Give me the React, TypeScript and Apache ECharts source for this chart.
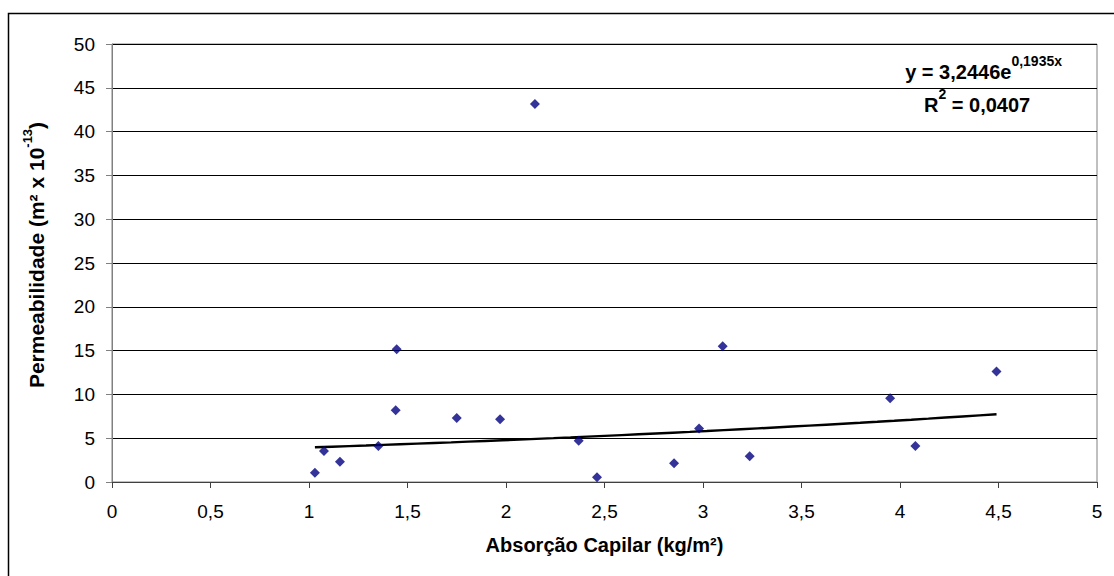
import React, { useEffect, useRef } from "react";
import * as echarts from "echarts";

const absorcao = [1.03, 1.076, 1.157, 1.352, 1.44, 1.445, 1.75, 1.97, 2.147, 2.369, 2.462, 2.853, 2.98, 3.1, 3.237, 3.95, 4.078, 4.49];
const permeabilidade = [1.07, 3.54, 2.32, 4.1, 8.2, 15.15, 7.3, 7.15, 43.15, 4.72, 0.53, 2.13, 6.12, 15.5, 2.93, 9.55, 4.1, 12.6];
const xTicks = { min: 0, max: 5, interval: 0.5 };
const yTicks = { min: 0, max: 50, interval: 5 };
// Trendline as displayed: y = 3,2446 e^(0,1935 x)
const TREND_A = 3.2446;
const TREND_B = 0.1935;
const TREND_STEPS = 40;

const FONT = "'Liberation Sans', Arial, sans-serif";

export default function App() {
  const ref = useRef<HTMLDivElement>(null);
  useEffect(() => {
    if (!ref.current) return;
    const chart = echarts.init(ref.current, null, { renderer: "svg" });
    const points = absorcao.map((x, i) => [x, permeabilidade[i]]);
    const xmin = Math.min(...absorcao);
    const xmax = Math.max(...absorcao);
    const trend: number[][] = [];
    for (let i = 0; i <= TREND_STEPS; i++) {
      const x = xmin + ((xmax - xmin) * i) / TREND_STEPS;
      trend.push([x, TREND_A * Math.exp(TREND_B * x)]);
    }
    const fmt = (v: number) => String(v).replace(".", ",");
    const eqRich = {
      m: { fontSize: 20, fontWeight: "bold", fontFamily: FONT, fill: "#000", lineHeight: 28, verticalAlign: "bottom" },
      s: { fontSize: 14, fontWeight: "bold", fontFamily: FONT, fill: "#000", lineHeight: 28, verticalAlign: "top" },
    };
    chart.setOption({
      animation: false,
      backgroundColor: "#fff",
      textStyle: { fontFamily: FONT },
      grid: {
        left: 112,
        right: 17,
        top: 44,
        bottom: 94,
        show: true,
        borderColor: "#808080",
        borderWidth: 1,
        backgroundColor: "transparent",
      },
      xAxis: {
        type: "value",
        min: xTicks.min,
        max: xTicks.max,
        interval: xTicks.interval,
        name: "Absorção Capilar (kg/m²)",
        nameLocation: "middle",
        nameGap: 53,
        nameTextStyle: { fontFamily: FONT, fontSize: 20, fontWeight: "bold", color: "#000" },
        axisLine: { show: true, onZero: false, lineStyle: { color: "#404040", width: 1 } },
        axisTick: { show: true, length: 6, inside: false, lineStyle: { color: "#404040" } },
        axisLabel: { margin: 20, fontSize: 19, color: "#000", fontFamily: FONT, formatter: fmt },
        splitLine: { show: false },
      },
      yAxis: {
        type: "value",
        min: yTicks.min,
        max: yTicks.max,
        interval: yTicks.interval,
        name: "{m|Permeabilidade (m² x 10}{s|-13}{m|)}",
        nameLocation: "middle",
        nameGap: 65,
        nameTextStyle: {
          fontFamily: FONT,
          color: "#000",
          padding: [0, 0, 0, 16],
          rich: {
            m: { fontSize: 21, fontWeight: "bold", fontFamily: FONT, color: "#000", lineHeight: 26, verticalAlign: "bottom" },
            s: { fontSize: 13, fontWeight: "bold", fontFamily: FONT, color: "#000", lineHeight: 26, verticalAlign: "top" },
          },
        },
        axisLine: { show: true, lineStyle: { color: "#808080", width: 1 } },
        axisTick: { show: true, length: 6, inside: false, lineStyle: { color: "#808080" } },
        axisLabel: { margin: 17, fontSize: 19, color: "#000", fontFamily: FONT },
        splitLine: { show: true, lineStyle: { color: "#000", width: 1 } },
      },
      series: [
        {
          type: "line",
          data: trend,
          showSymbol: false,
          symbol: "none",
          lineStyle: { color: "#000", width: 2.4 },
          silent: true,
          z: 2,
        },
        {
          type: "scatter",
          data: points,
          symbol: "diamond",
          symbolSize: 10,
          itemStyle: { color: "#000080" },
          z: 3,
        },
      ],
      graphic: [
        {
          type: "rect",
          shape: { x: 8.5, y: 13.5, width: 1200, height: 1000 },
          style: { fill: "none", stroke: "#000", lineWidth: 1.5 },
          silent: true,
        },
        {
          type: "text",
          right: 52,
          top: 54,
          style: { text: "{m|y = 3,2446e}{s|0,1935x}", rich: eqRich },
        },
        {
          type: "text",
          left: 924,
          top: 87,
          style: { text: "{m|R}{s|2}{m| = 0,0407}", rich: eqRich },
        },
      ],
    });
    return () => chart.dispose();
  }, []);
  return (
    <div
      ref={ref}
      style={{ position: "fixed", left: 0, top: 0, width: 1114, height: 576, background: "#fff" }}
    />
  );
}
